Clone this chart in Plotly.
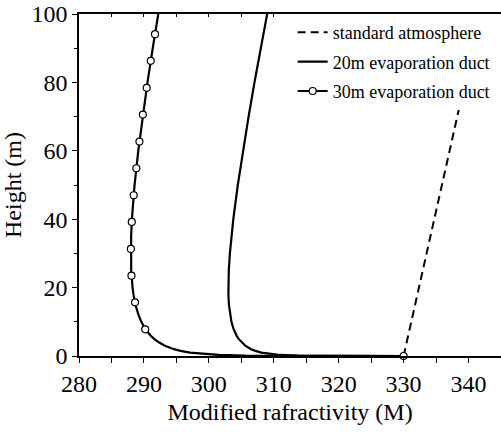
import plotly.graph_objects as go

# heights (m) sampled along the profiles
heights = [0, 0.001, 0.003, 0.01, 0.03, 0.1, 0.3, 0.6, 1, 1.5, 2, 3, 4, 5, 6, 8, 10, 12,
           15, 18, 20, 25, 30, 35, 40, 50, 60, 70, 80, 90, 100]
m_20m = [330.0, 324.91, 322.39, 319.46, 316.75, 313.75, 311.03, 309.34, 308.11, 307.16,
         306.51, 305.62, 305.02, 304.59, 304.26, 303.79, 303.48, 303.28, 303.09, 303.01,
         303.0, 303.07, 303.24, 303.48, 303.77, 304.46, 305.25, 306.12, 307.03, 307.99, 308.98]
m_30m = [330.0, 322.36, 318.58, 314.19, 310.12, 305.62, 301.53, 298.97, 297.11, 295.65,
         294.63, 293.24, 292.28, 291.57, 291.01, 290.18, 289.6, 289.16, 288.7, 288.39,
         288.25, 288.04, 287.98, 288.03, 288.15, 288.56, 289.13, 289.8, 290.55, 291.36, 292.21]

# marker positions on the 30m curve
marker_heights = [0, 7.8, 15.7, 23.5, 31.3, 39.2, 47.0, 54.9, 62.7, 70.6, 78.4, 86.3, 94.1]
marker_m = [330.0, 290.2, 288.63, 288.08, 287.99, 288.13, 288.42, 288.83, 289.31, 289.84,
            290.43, 291.05, 291.71]

std_heights = [0, 100]
std_m = [330.0, 341.8]

FONT = "Liberation Serif, Times New Roman, serif"
tick_font = dict(family=FONT, size=24, color="black")
circle = dict(symbol="circle", size=7, color="white", line=dict(color="black", width=1.2))

fig = go.Figure()

fig.add_trace(go.Scatter(
    x=std_m, y=std_heights, mode="lines", name="standard atmosphere",
    line=dict(color="black", width=2, dash="8px,5px"), legendgroup="a",
))
fig.add_trace(go.Scatter(
    x=m_20m, y=heights, mode="lines", name="20m evaporation duct",
    line=dict(color="black", width=2.2), legendgroup="b",
))
fig.add_trace(go.Scatter(
    x=m_30m, y=heights, mode="lines", showlegend=False,
    line=dict(color="black", width=2.2), legendgroup="c",
))
fig.add_trace(go.Scatter(
    x=marker_m, y=marker_heights, mode="markers", showlegend=False, cliponaxis=False,
    marker=circle, legendgroup="c",
))
# legend entry for the 30m curve
fig.add_trace(go.Scatter(
    x=[None], y=[None], mode="lines+markers", name="30m evaporation duct",
    line=dict(color="black", width=2.2), marker=circle, legendgroup="c",
))
# empty trace so the top axis gets drawn
fig.add_trace(go.Scatter(
    x=[None], y=[None], xaxis="x2", mode="lines", showlegend=False, hoverinfo="skip",
))

fig.update_layout(
    width=501, height=434,
    margin=dict(l=79, r=0, t=14, b=78, autoexpand=False),
    paper_bgcolor="white", plot_bgcolor="white",
    font=dict(family=FONT, size=24, color="black"),
    showlegend=True,
    legend=dict(
        x=0.985, y=1.0, xanchor="right", yanchor="top",
        bgcolor="white", borderwidth=0,
        font=dict(family=FONT, size=18, color="black"),
        tracegroupgap=3,
    ),
    xaxis=dict(
        range=[280, 345], dtick=10, tick0=280, automargin=False,
        tickfont=tick_font,
        showline=True, linecolor="black", linewidth=1.5,
        ticks="outside", ticklen=5, tickwidth=1, tickcolor="black",
        minor=dict(dtick=5, ticks="outside", ticklen=5, tickcolor="black"),
        showgrid=False, zeroline=False,
        title=dict(text="Modified rafractivity (M)", standoff=8, font=tick_font),
    ),
    xaxis2=dict(
        overlaying="x", side="top", matches="x", automargin=False,
        showline=True, linecolor="black", linewidth=1.5,
        ticks="inside", ticklen=3, dtick=5, tick0=280, tickcolor="black",
        showticklabels=False, showgrid=False, zeroline=False,
    ),
    yaxis=dict(
        range=[0, 100], dtick=20, automargin=False,
        tickfont=tick_font,
        showline=True, linecolor="black", linewidth=1.5,
        ticks="outside", ticklen=5, tickwidth=1, tickcolor="black",
        minor=dict(dtick=10, ticks="outside", ticklen=3, tickcolor="black"),
        showgrid=False, zeroline=False,
        title=dict(text="Height (m)", standoff=8, font=tick_font),
    ),
)

# drop the page's default body margin so the figure fills the window
fig.write_html("out.html", config={"displayModeBar": False},
               post_script="document.body.style.margin='0';")
